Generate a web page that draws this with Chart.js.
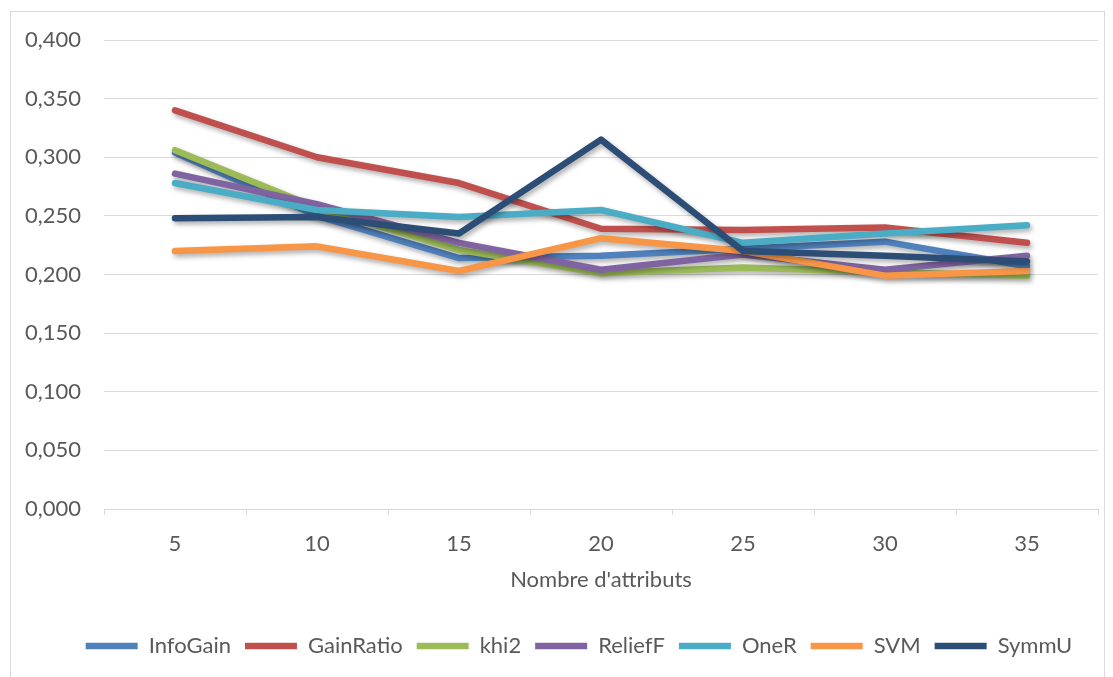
<!DOCTYPE html>
<html>
<head>
<meta charset="utf-8">
<script src="https://cdn.jsdelivr.net/npm/chart.js@4/dist/chart.umd.min.js"></script>
<style>
  html, body { margin: 0; padding: 0; background: #ffffff; }
  #wrap { width: 1113px; height: 677px; position: relative; }
</style>
</head>
<body>
<div id="wrap"><canvas id="chart" width="1113" height="677"></canvas></div>
<script>
// Number of attributes kept (x axis categories)
const categories = ['5', '10', '15', '20', '25', '30', '35'];

// Error rate per feature-selection method
const infoGain  = [0.304, 0.250, 0.214, 0.216, 0.222, 0.228, 0.207];
const gainRatio = [0.340, 0.300, 0.278, 0.239, 0.238, 0.240, 0.227];
const khi2      = [0.306, 0.257, 0.221, 0.201, 0.206, 0.202, 0.199];
const reliefF   = [0.286, 0.260, 0.227, 0.204, 0.217, 0.204, 0.216];
const oneR      = [0.278, 0.255, 0.249, 0.255, 0.227, 0.235, 0.242];
const svm       = [0.220, 0.224, 0.203, 0.231, 0.220, 0.199, 0.203];
const symmU     = [0.248, 0.249, 0.235, 0.315, 0.220, 0.216, 0.211];

const seriesNames = ['InfoGain', 'GainRatio', 'khi2', 'ReliefF', 'OneR', 'SVM', 'SymmU'];
const seriesValues = [infoGain, gainRatio, khi2, reliefF, oneR, svm, symmU];
const seriesColors = ['#4F81BD', '#C0504D', '#9BBB59', '#8064A2', '#4BACC6', '#F79646', '#2C4D75'];

const axisTitle = "Nombre d'attributs";

const FONT = 'Lato, "Open Sans", "DejaVu Sans", sans-serif';
const TEXT = '#595959';
const GRID = '#D9D9D9';

const datasets = seriesNames.map((name, i) => ({
  label: name,
  data: seriesValues[i],
  borderColor: seriesColors[i],
  backgroundColor: seriesColors[i],
  borderWidth: 6.5,
  borderCapStyle: 'round',
  borderJoinStyle: 'round',
  pointRadius: 0,
  pointHoverRadius: 0,
  tension: 0,
  fill: false,
  // later series are painted on top of earlier ones
  order: seriesNames.length - i
}));

// soft drop shadow under every line
const lineShadow = {
  id: 'lineShadow',
  beforeDatasetDraw(chart) {
    const ctx = chart.ctx;
    ctx.save();
    ctx.shadowColor = 'rgba(0,0,0,0.32)';
    ctx.shadowBlur = 5;
    ctx.shadowOffsetX = 2;
    ctx.shadowOffsetY = 3;
  },
  afterDatasetDraw(chart) {
    chart.ctx.restore();
  }
};

// white background and thin outer frame
const frame = {
  id: 'frame',
  beforeDraw(chart) {
    const ctx = chart.ctx;
    ctx.save();
    ctx.fillStyle = '#ffffff';
    ctx.fillRect(0, 0, chart.width, chart.height);
    ctx.strokeStyle = GRID;
    ctx.lineWidth = 1;
    ctx.strokeRect(10.5, 11.5, 1094, 690);
    ctx.restore();
  }
};

// centre the legend row under the plot rather than the whole canvas
const legendSpan = {
  id: 'legendSpan',
  afterLayout(chart) {
    if (chart.legend) {
      chart.legend.left = 60;
      chart.legend.right = 1098;
    }
  }
};

new Chart(document.getElementById('chart'), {
  type: 'line',
  data: { labels: categories, datasets },
  plugins: [frame, lineShadow, legendSpan],
  options: {
    responsive: false,
    animation: false,
    events: [],
    layout: { padding: { left: 10, right: 15, top: 40, bottom: 10 } },
    scales: {
      x: {
        offset: true,
        grid: {
          offset: true,
          drawOnChartArea: false,
          drawTicks: true,
          tickLength: 6,
          color: GRID
        },
        border: { display: true, color: GRID, width: 1 },
        ticks: {
          color: TEXT,
          font: { family: FONT, size: 22 },
          padding: 16,
          maxRotation: 0
        },
        title: {
          display: true,
          text: axisTitle,
          color: TEXT,
          font: { family: FONT, size: 22 },
          padding: { top: 0, bottom: 28 }
        },
        afterFit(scale) { scale.height = 112; }
      },
      y: {
        min: 0,
        max: 0.4,
        grid: { color: GRID, lineWidth: 1, drawTicks: false },
        border: { display: false },
        ticks: {
          stepSize: 0.05,
          color: TEXT,
          font: { family: FONT, size: 22 },
          padding: 23,
          callback: v => v.toFixed(3).replace('.', ',')
        },
        afterFit(scale) { scale.width = 94; }
      }
    },
    plugins: {
      tooltip: { enabled: false },
      legend: {
        display: true,
        position: 'bottom',
        labels: {
          usePointStyle: true,
          pointStyle: 'line',
          pointStyleWidth: 52,
          color: TEXT,
          font: { family: FONT, size: 22 },
          padding: 14,
          sort: (a, b) => a.datasetIndex - b.datasetIndex
        }
      }
    }
  }
});
</script>
</body>
</html>
